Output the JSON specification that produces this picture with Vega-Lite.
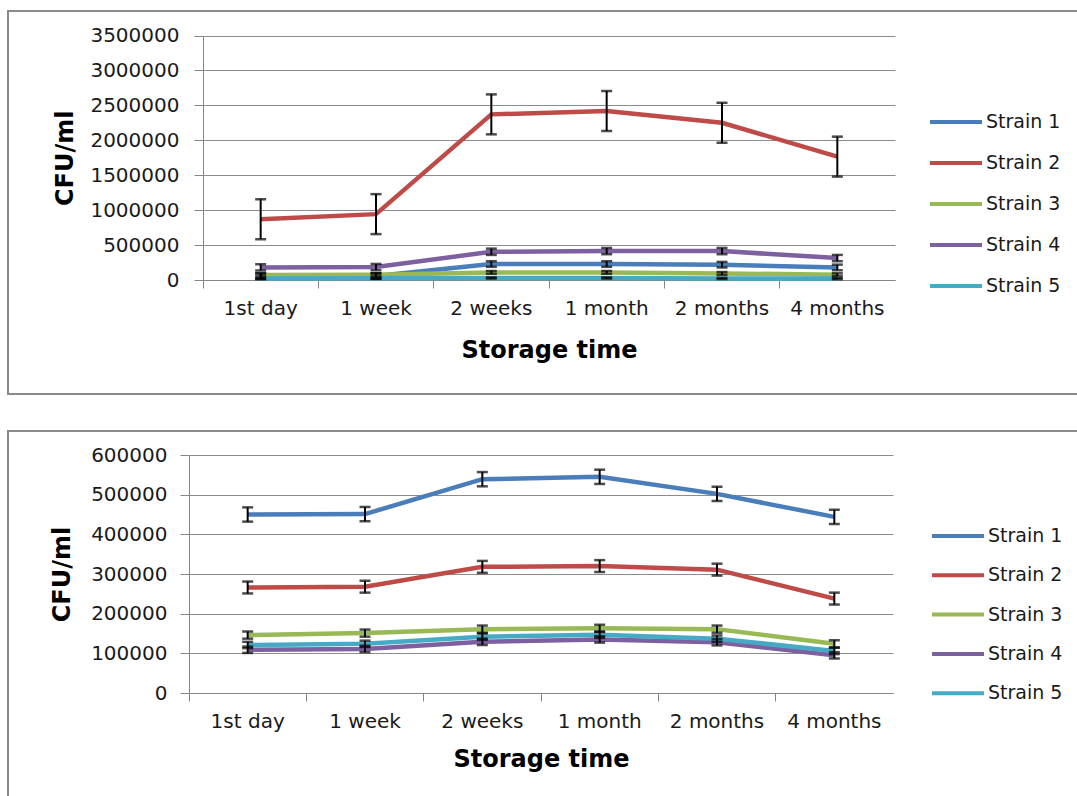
{
  "$schema": "https://vega.github.io/schema/vega-lite/v6.json",
  "padding": {"left": 7, "top": 10, "right": 0, "bottom": 0},
  "config": {
    "font": "DejaVu Sans",
    "view": {"stroke": "#8a8a8a", "strokeWidth": 2},
    "axis": {
      "domainColor": "#868686",
      "tickColor": "#868686",
      "gridColor": "#8c8c8c",
      "gridOpacity": 1,
      "labelFont": "DejaVu Sans",
      "labelFontSize": 20,
      "labelColor": "#1a1a1a",
      "titleFont": "DejaVu Sans",
      "titleFontSize": 24,
      "titleFontWeight": "bold",
      "titleColor": "#000000"
    },
    "legend": {
      "labelFont": "DejaVu Sans",
      "labelFontSize": 19,
      "labelColor": "#1a1a1a"
    }
  },
  "resolve": {"scale": {"color": "independent"}, "legend": {"color": "independent"}},
  "spacing": 35,
  "datasets": {
    "top": [
      {"time": "1st day", "strain": "Strain 1", "cfu": 55000, "err": 40000},
      {"time": "1 week", "strain": "Strain 1", "cfu": 58000, "err": 40000},
      {"time": "2 weeks", "strain": "Strain 1", "cfu": 229000, "err": 40000},
      {"time": "1 month", "strain": "Strain 1", "cfu": 229000, "err": 40000},
      {"time": "2 months", "strain": "Strain 1", "cfu": 219000, "err": 40000},
      {"time": "4 months", "strain": "Strain 1", "cfu": 180000, "err": 40000},
      {"time": "1st day", "strain": "Strain 2", "cfu": 871000, "err": 286000},
      {"time": "1 week", "strain": "Strain 2", "cfu": 943000, "err": 286000},
      {"time": "2 weeks", "strain": "Strain 2", "cfu": 2371000, "err": 286000},
      {"time": "1 month", "strain": "Strain 2", "cfu": 2419000, "err": 286000},
      {"time": "2 months", "strain": "Strain 2", "cfu": 2251000, "err": 286000},
      {"time": "4 months", "strain": "Strain 2", "cfu": 1766000, "err": 286000},
      {"time": "1st day", "strain": "Strain 3", "cfu": 72000, "err": 20000},
      {"time": "1 week", "strain": "Strain 3", "cfu": 76000, "err": 20000},
      {"time": "2 weeks", "strain": "Strain 3", "cfu": 109000, "err": 20000},
      {"time": "1 month", "strain": "Strain 3", "cfu": 109000, "err": 20000},
      {"time": "2 months", "strain": "Strain 3", "cfu": 94000, "err": 20000},
      {"time": "4 months", "strain": "Strain 3", "cfu": 76000, "err": 20000},
      {"time": "1st day", "strain": "Strain 4", "cfu": 180000, "err": 45000},
      {"time": "1 week", "strain": "Strain 4", "cfu": 185000, "err": 45000},
      {"time": "2 weeks", "strain": "Strain 4", "cfu": 404000, "err": 45000},
      {"time": "1 month", "strain": "Strain 4", "cfu": 414000, "err": 45000},
      {"time": "2 months", "strain": "Strain 4", "cfu": 414000, "err": 45000},
      {"time": "4 months", "strain": "Strain 4", "cfu": 314000, "err": 45000},
      {"time": "1st day", "strain": "Strain 5", "cfu": 22000, "err": 8000},
      {"time": "1 week", "strain": "Strain 5", "cfu": 24000, "err": 8000},
      {"time": "2 weeks", "strain": "Strain 5", "cfu": 29000, "err": 8000},
      {"time": "1 month", "strain": "Strain 5", "cfu": 29000, "err": 8000},
      {"time": "2 months", "strain": "Strain 5", "cfu": 22000, "err": 8000},
      {"time": "4 months", "strain": "Strain 5", "cfu": 20000, "err": 8000}
    ],
    "bottom": [
      {"time": "1st day", "strain": "Strain 1", "cfu": 450000, "err": 18000},
      {"time": "1 week", "strain": "Strain 1", "cfu": 451000, "err": 18000},
      {"time": "2 weeks", "strain": "Strain 1", "cfu": 539000, "err": 18000},
      {"time": "1 month", "strain": "Strain 1", "cfu": 545000, "err": 18000},
      {"time": "2 months", "strain": "Strain 1", "cfu": 502000, "err": 18000},
      {"time": "4 months", "strain": "Strain 1", "cfu": 444000, "err": 18000},
      {"time": "1st day", "strain": "Strain 2", "cfu": 266000, "err": 15000},
      {"time": "1 week", "strain": "Strain 2", "cfu": 268000, "err": 15000},
      {"time": "2 weeks", "strain": "Strain 2", "cfu": 318000, "err": 15000},
      {"time": "1 month", "strain": "Strain 2", "cfu": 320000, "err": 15000},
      {"time": "2 months", "strain": "Strain 2", "cfu": 311000, "err": 15000},
      {"time": "4 months", "strain": "Strain 2", "cfu": 238000, "err": 15000},
      {"time": "1st day", "strain": "Strain 3", "cfu": 146000, "err": 9000},
      {"time": "1 week", "strain": "Strain 3", "cfu": 151000, "err": 9000},
      {"time": "2 weeks", "strain": "Strain 3", "cfu": 161000, "err": 9000},
      {"time": "1 month", "strain": "Strain 3", "cfu": 163000, "err": 9000},
      {"time": "2 months", "strain": "Strain 3", "cfu": 161000, "err": 9000},
      {"time": "4 months", "strain": "Strain 3", "cfu": 124000, "err": 9000},
      {"time": "1st day", "strain": "Strain 4", "cfu": 109000, "err": 8000},
      {"time": "1 week", "strain": "Strain 4", "cfu": 111000, "err": 8000},
      {"time": "2 weeks", "strain": "Strain 4", "cfu": 129000, "err": 8000},
      {"time": "1 month", "strain": "Strain 4", "cfu": 135000, "err": 8000},
      {"time": "2 months", "strain": "Strain 4", "cfu": 128000, "err": 8000},
      {"time": "4 months", "strain": "Strain 4", "cfu": 95000, "err": 8000},
      {"time": "1st day", "strain": "Strain 5", "cfu": 121000, "err": 8000},
      {"time": "1 week", "strain": "Strain 5", "cfu": 124000, "err": 8000},
      {"time": "2 weeks", "strain": "Strain 5", "cfu": 142000, "err": 8000},
      {"time": "1 month", "strain": "Strain 5", "cfu": 147000, "err": 8000},
      {"time": "2 months", "strain": "Strain 5", "cfu": 137000, "err": 8000},
      {"time": "4 months", "strain": "Strain 5", "cfu": 106000, "err": 8000}
    ]
  },
  "vconcat": [
    {
      "width": 1072,
      "height": 383,
      "data": {"name": "top"},
      "encoding": {
        "x": {
          "field": "time", "type": "nominal",
          "sort": ["1st day", "1 week", "2 weeks", "1 month", "2 months", "4 months"],
          "scale": {"type": "band", "range": [195, 887], "paddingInner": 0, "paddingOuter": 0},
          "axis": {"title": "Storage time", "orient": "bottom", "offset": -114, "bandPosition": 0, "labelAngle": 0, "tickSize": 8, "labelPadding": 10, "titlePadding": 20, "grid": false}
        },
        "y": {
          "field": "cfu", "type": "quantitative",
          "scale": {"domain": [0, 3500000], "range": [269, 24.5], "nice": false},
          "axis": {"title": "CFU/ml", "offset": -195, "values": [0, 500000, 1000000, 1500000, 2000000, 2500000, 3000000, 3500000], "format": "d", "tickSize": 9, "labelPadding": 15, "titlePadding": 12, "grid": true}
        }
      },
      "layer": [
        {
          "mark": {"type": "line", "strokeWidth": 4.5},
          "encoding": {
            "color": {
              "field": "strain", "type": "nominal",
              "scale": {"domain": ["Strain 1", "Strain 2", "Strain 3", "Strain 4", "Strain 5"], "range": ["#4A7EBB", "#BE4B48", "#98B954", "#7D60A0", "#46AAC5"]},
              "legend": {"orient": "none", "legendX": 920, "legendY": 83, "title": null, "symbolType": "stroke", "symbolSize": 2704, "symbolStrokeWidth": 4, "rowPadding": 3, "labelOffset": 2}
            }
          }
        },
        {
          "mark": {"type": "errorbar", "color": "black", "thickness": 2, "ticks": {"size": 11, "thickness": 2.5, "color": "black"}},
          "encoding": {
            "yError": {"field": "err"},
            "detail": {"field": "strain"}
          }
        }
      ]
    },
    {
      "width": 1072,
      "height": 372,
      "data": {"name": "bottom"},
      "encoding": {
        "x": {
          "field": "time", "type": "nominal",
          "sort": ["1st day", "1 week", "2 weeks", "1 month", "2 months", "4 months"],
          "scale": {"type": "band", "range": [181, 885], "paddingInner": 0, "paddingOuter": 0},
          "axis": {"title": "Storage time", "orient": "bottom", "offset": -110, "bandPosition": 0, "labelAngle": 0, "tickSize": 8, "labelPadding": 10, "titlePadding": 16, "grid": false}
        },
        "y": {
          "field": "cfu", "type": "quantitative",
          "scale": {"domain": [0, 600000], "range": [262, 24], "nice": false},
          "axis": {"title": "CFU/ml", "offset": -181, "values": [0, 100000, 200000, 300000, 400000, 500000, 600000], "format": "d", "tickSize": 9, "labelPadding": 13, "titlePadding": 16, "grid": true}
        }
      },
      "layer": [
        {
          "mark": {"type": "line", "strokeWidth": 4.5},
          "encoding": {
            "color": {
              "field": "strain", "type": "nominal",
              "scale": {"domain": ["Strain 1", "Strain 2", "Strain 3", "Strain 4", "Strain 5"], "range": ["#4A7EBB", "#BE4B48", "#98B954", "#7D60A0", "#46AAC5"]},
              "legend": {"orient": "none", "legendX": 922, "legendY": 77, "title": null, "symbolType": "stroke", "symbolSize": 2704, "symbolStrokeWidth": 4, "rowPadding": 1.3, "labelOffset": 2}
            }
          }
        },
        {
          "mark": {"type": "errorbar", "color": "black", "thickness": 2, "ticks": {"size": 11, "thickness": 2.5, "color": "black"}},
          "encoding": {
            "yError": {"field": "err"},
            "detail": {"field": "strain"}
          }
        }
      ]
    }
  ]
}
